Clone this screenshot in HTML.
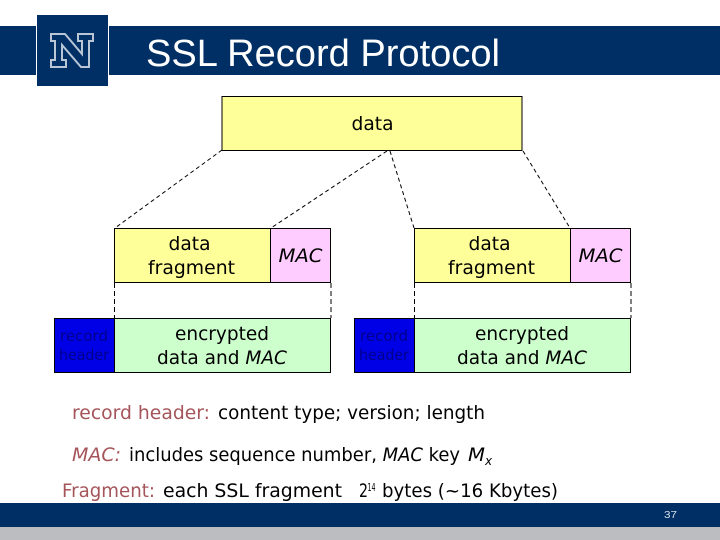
<!DOCTYPE html>
<html><head><meta charset="utf-8"><style>
html,body{margin:0;padding:0;background:#fff;width:720px;height:540px;overflow:hidden}
svg{display:block}
text{font-family:"DejaVu Sans","Liberation Sans",sans-serif;font-size:19px;fill:#000}
.t{font-family:"Liberation Sans",sans-serif}
.r{fill:#a5555a}
.i{font-style:italic}
.h{font-size:15px;fill:#00008c}
</style></head><body>
<svg width="720" height="540" viewBox="0 0 720 540" xmlns="http://www.w3.org/2000/svg">
<rect x="0" y="26" width="720" height="49" fill="#002f65"/>
<rect x="36" y="14" width="73" height="73" fill="#fff"/>
<rect x="37" y="15" width="71" height="71" fill="#002f65"/>
<path d="M51 34H65L82 54V41H78V34H93V41H89V67H81L62 45V60H66V67H51V60H55V41H51Z" fill="#002f65" stroke="#b9c6d6" stroke-width="2"/>
<text class="t" x="146" y="66" style="font-size:38px;fill:#fff" textLength="354" lengthAdjust="spacingAndGlyphs">SSL Record Protocol</text>

<rect x="222" y="96.500" width="300" height="54" fill="#ffff99" stroke="#000" stroke-width="1"/>
<text x="372.500" y="130" text-anchor="middle" textLength="42" lengthAdjust="spacingAndGlyphs">data</text>

<g stroke="#000" stroke-width="1" stroke-dasharray="4 3" fill="none">
<path d="M222 150L115 228M387 151L271 228M390 151L414 228M523 151L570 228"/>
<path d="M114.500 283V318M331 283V318M414.500 283V318M631 283V318" stroke-dasharray="5 3"/>
</g>

<g stroke="#000" stroke-width="1">
<rect x="114.500" y="228.500" width="156" height="54" fill="#ffff99"/>
<rect x="270.500" y="228.500" width="60" height="54" fill="#ffccff"/>
<rect x="114.500" y="318.500" width="216" height="54" fill="#ccffcc"/>
<rect x="54.500" y="318.500" width="60" height="54" fill="#0000e6"/>
</g>
<g stroke="#000" stroke-width="1">
<rect x="414.500" y="228.500" width="156" height="54" fill="#ffff99"/>
<rect x="570.500" y="228.500" width="60" height="54" fill="#ffccff"/>
<rect x="414.500" y="318.500" width="216" height="54" fill="#ccffcc"/>
<rect x="354.500" y="318.500" width="60" height="54" fill="#0000e6"/>
</g>

<text x="189.500" y="250" text-anchor="middle" textLength="42" lengthAdjust="spacingAndGlyphs">data</text>
<text x="191.500" y="274" text-anchor="middle" textLength="87" lengthAdjust="spacingAndGlyphs">fragment</text>
<text class="i" x="300.500" y="262" text-anchor="middle" textLength="44" lengthAdjust="spacingAndGlyphs">MAC</text>
<text x="222" y="340" text-anchor="middle" textLength="94" lengthAdjust="spacingAndGlyphs">encrypted</text>
<text x="222" y="364" text-anchor="middle" textLength="130" lengthAdjust="spacingAndGlyphs">data and <tspan class="i">MAC</tspan></text>
<text class="h" x="84" y="341" text-anchor="middle" textLength="48" lengthAdjust="spacingAndGlyphs">record</text>
<text class="h" x="84" y="360" text-anchor="middle" textLength="50" lengthAdjust="spacingAndGlyphs">header</text>

<text x="489.500" y="250" text-anchor="middle" textLength="42" lengthAdjust="spacingAndGlyphs">data</text>
<text x="491.500" y="274" text-anchor="middle" textLength="87" lengthAdjust="spacingAndGlyphs">fragment</text>
<text class="i" x="600.500" y="262" text-anchor="middle" textLength="44" lengthAdjust="spacingAndGlyphs">MAC</text>
<text x="522" y="340" text-anchor="middle" textLength="94" lengthAdjust="spacingAndGlyphs">encrypted</text>
<text x="522" y="364" text-anchor="middle" textLength="130" lengthAdjust="spacingAndGlyphs">data and <tspan class="i">MAC</tspan></text>
<text class="h" x="384" y="341" text-anchor="middle" textLength="48" lengthAdjust="spacingAndGlyphs">record</text>
<text class="h" x="384" y="360" text-anchor="middle" textLength="50" lengthAdjust="spacingAndGlyphs">header</text>

<text class="r" x="72" y="419" textLength="138" lengthAdjust="spacingAndGlyphs">record header:</text>
<text x="218" y="419" textLength="267" lengthAdjust="spacingAndGlyphs">content type; version; length</text>
<text class="r i" x="72" y="461" textLength="49" lengthAdjust="spacingAndGlyphs">MAC:</text>
<text x="129" y="461" textLength="331" lengthAdjust="spacingAndGlyphs">includes sequence number, <tspan class="i">MAC</tspan> key</text>
<text class="i" x="468" y="461" textLength="17" lengthAdjust="spacingAndGlyphs">M</text>
<text class="i" x="485" y="465" style="font-size:12px">x</text>
<text class="r" x="62" y="497" textLength="93" lengthAdjust="spacingAndGlyphs">Fragment:</text>
<text x="163" y="497" textLength="179" lengthAdjust="spacingAndGlyphs">each SSL fragment</text>
<text x="359" y="497" textLength="9" lengthAdjust="spacingAndGlyphs">2</text>
<text x="367.500" y="491" style="font-size:11px" textLength="8" lengthAdjust="spacingAndGlyphs">14</text>
<text x="382" y="497" textLength="176" lengthAdjust="spacingAndGlyphs">bytes (~16 Kbytes)</text>

<rect x="0" y="503" width="720" height="24" fill="#002f65"/>
<rect x="0" y="527" width="720" height="13" fill="#bbbdc0"/>
<text class="t" x="664" y="518" style="font-size:10px;fill:#d5dce6" textLength="13" lengthAdjust="spacingAndGlyphs">37</text>
</svg>
</body></html>
